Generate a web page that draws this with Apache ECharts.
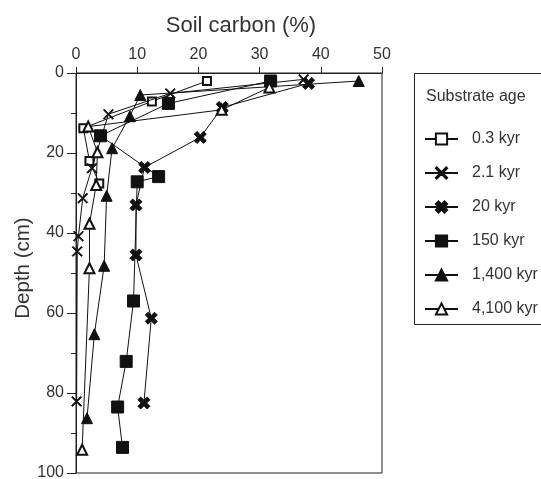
<!DOCTYPE html>
<html>
<head>
<meta charset="utf-8">
<script src="https://cdn.jsdelivr.net/npm/echarts@6/dist/echarts.min.js"></script>
<style>html,body{margin:0;padding:0;background:#fff;}#c{width:541px;height:479px;}</style>
</head>
<body>
<div id="c"></div>
<script>
// ---- data (soil carbon %, depth cm) ----
const seriesNames = ['0.3 kyr', '2.1 kyr', '20 kyr', '150 kyr', '1,400 kyr', '4,100 kyr'];

const carbon03 = [21.4, 12.4, 1.2, 2.2, 3.8];
const depth03  = [2.0, 7.1, 13.8, 22.0, 27.6];

const carbon21 = [37.2, 15.4, 5.3, 2.6, 1.1, 0.4, 0.2, 0.1];
const depth21  = [1.6, 5.1, 10.3, 23.8, 31.3, 40.8, 44.6, 82.1];

const carbon20 = [38.0, 23.9, 20.3, 11.2, 9.8, 9.8, 12.3, 11.1];
const depth20  = [2.6, 8.6, 16.1, 23.6, 33.0, 45.5, 61.3, 82.5];

const carbon150 = [31.8, 15.1, 4.0, 13.5, 10.0, 9.4, 8.2, 6.8, 7.6];
const depth150  = [2.0, 7.6, 15.7, 25.9, 27.2, 57.0, 72.1, 83.5, 93.6];

const carbon1400 = [46.2, 10.5, 8.8, 5.9, 5.0, 4.6, 3.0, 1.8];
const depth1400  = [2.0, 5.5, 10.8, 18.8, 30.7, 48.2, 65.3, 86.3];

const carbon4100 = [31.6, 23.8, 2.0, 3.5, 3.3, 2.2, 2.2, 1.0];
const depth4100  = [3.6, 9.2, 13.4, 19.8, 28.0, 37.7, 48.8, 94.2];

const xTicks = [0, 10, 20, 30, 40, 50];
const yTicks = [0, 20, 40, 60, 80, 100];

// ---- build ----
function zip(a, b) { return a.map((v, i) => [v, b[i]]); }
const thinX = 'path://M0,0.8L0.8,0L5,4.2L9.2,0L10,0.8L5.8,5L10,9.2L9.2,10L5,5.8L0.8,10L0,9.2L4.2,5Z';
const boldX = 'path://M0,2.3L2.3,0L5,2.7L7.7,0L10,2.3L7.3,5L10,7.7L7.7,10L5,7.3L2.3,10L0,7.7L2.7,5Z';

const defs = [
  { data: zip(carbon03, depth03), symbol: 'emptyRect', size: 8 },
  { data: zip(carbon21, depth21), symbol: thinX, size: 10 },
  { data: zip(carbon20, depth20), symbol: boldX, size: 12 },
  { data: zip(carbon150, depth150), symbol: 'rect', size: 12 },
  { data: zip(carbon1400, depth1400), symbol: 'triangle', size: 11 },
  { data: zip(carbon4100, depth4100), symbol: 'emptyTriangle', size: 10 }
];

const FONT = 'Liberation Sans';
const TXT = '#333';
const AX = '#222';

const chart = echarts.init(document.getElementById('c'), null, { renderer: 'canvas' });
chart.setOption({
  animation: false,
  backgroundColor: '#fff',
  grid: { left: 76, top: 73, right: 159, bottom: 6, show: true, borderColor: AX, borderWidth: 1, outerBoundsMode: 'none', containLabel: false },
  xAxis: {
    type: 'value', position: 'top', min: xTicks[0], max: xTicks[xTicks.length - 1], interval: 10,
    name: 'Soil carbon (%)', nameLocation: 'middle', nameGap: 36,
    nameTextStyle: { fontFamily: FONT, fontSize: 22, color: TXT, padding: [0, 0, 0, 24] },
    axisLine: { show: true, lineStyle: { color: AX, width: 1 } },
    axisTick: { show: true, length: 6, lineStyle: { color: AX } },
    axisLabel: { fontFamily: FONT, fontSize: 16, color: TXT, margin: 10 },
    splitLine: { show: false }
  },
  yAxis: {
    type: 'value', inverse: true, min: yTicks[0], max: yTicks[yTicks.length - 1], interval: 20,
    name: 'Depth (cm)', nameLocation: 'middle', nameGap: 42, nameMoveOverlap: false,
    nameTextStyle: { fontFamily: FONT, fontSize: 20.5, color: TXT, padding: [0, 0, 0, 10] },
    axisLine: { show: true, lineStyle: { color: AX, width: 1 } },
    axisTick: { show: true, length: 9, lineStyle: { color: AX } },
    minorTick: { show: true, splitNumber: 2, length: 5, lineStyle: { color: AX } },
    axisLabel: { fontFamily: FONT, fontSize: 16, color: TXT, margin: 12 },
    splitLine: { show: false }, minorSplitLine: { show: false }
  },
  legend: {
    orient: 'vertical', left: 419, top: 126, itemWidth: 33, itemHeight: 14, itemGap: 18,
    data: seriesNames,
    textStyle: { fontFamily: FONT, fontSize: 16, color: TXT, padding: [0, 0, 0, 9] }
  },
  graphic: [
    { type: 'rect', shape: { x: 414.5, y: 73.5, width: 160, height: 251 }, style: { fill: 'none', stroke: AX, lineWidth: 1 }, silent: true },
    { type: 'text', x: 426, y: 97, style: { text: 'Substrate age', fontFamily: FONT, fontSize: 16, fill: TXT, verticalAlign: 'middle' }, silent: true }
  ],
  series: defs.map((d, i) => ({
    name: seriesNames[i], type: 'line', data: d.data,
    symbol: d.symbol, symbolSize: d.size, showAllSymbol: true,
    lineStyle: { color: '#111', width: 1 },
    itemStyle: { color: '#111', borderColor: '#111', borderWidth: 1 },
    z: 2 + i
  }))
});
</script>
</body>
</html>
